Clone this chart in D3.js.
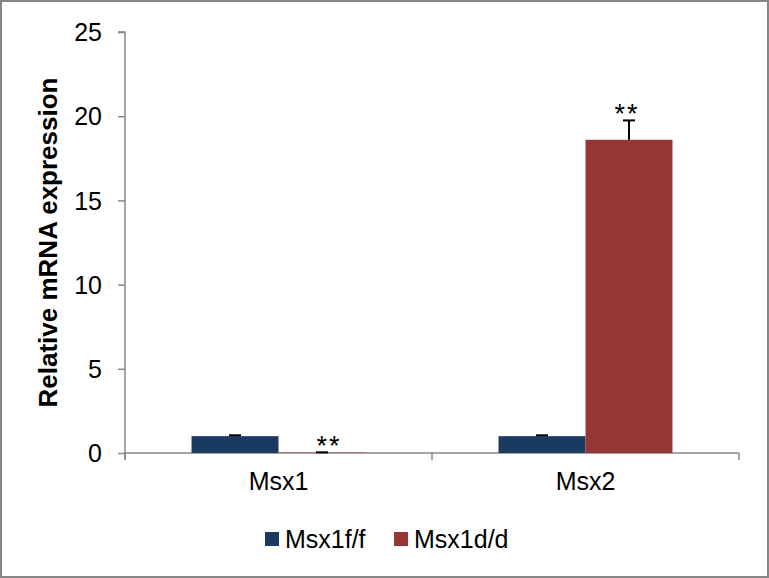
<!DOCTYPE html>
<html>
<head>
<meta charset="utf-8">
<script src="https://cdn.jsdelivr.net/npm/d3@7"></script>
<style>
  html, body { margin: 0; padding: 0; background: #fff; }
  svg text { font-family: Arial, "Liberation Sans", sans-serif; fill: #000; }
</style>
</head>
<body>
<svg id="chart" width="769" height="578"></svg>
<script>
// Relative mRNA expression of Msx1 / Msx2 in control vs. mutant
const genes = ["Msx1", "Msx2"];
const groups = ["Msx1f/f", "Msx1d/d"];
const colors = ["#1B3A62", "#953735"];
const msx1ffValues = [1.0, 1.0];
const msx1ffErrors = [0.05, 0.05];
const msx1ddValues = [0.02, 18.6];
const msx1ddErrors = [0.02, 1.15];
const msx1ddMarks = ["**", "**"];
const yTicks = [0, 5, 10, 15, 20, 25];

const svg = d3.select("#chart");
const W = 769, H = 578;

// outer frame
svg.append("rect")
  .attr("x", 1).attr("y", 1)
  .attr("width", W - 2).attr("height", H - 2)
  .attr("fill", "#fff").attr("stroke", "#868686").attr("stroke-width", 2);

const plot = { left: 125, right: 739, top: 32, bottom: 453 };

const x0 = d3.scaleBand().domain(genes).range([plot.left, plot.right]).paddingInner(0).paddingOuter(0);
const x1 = d3.scaleBand().domain(groups).range([0, x0.bandwidth()]).paddingInner(0).paddingOuter(0.765);
const y = d3.scaleLinear().domain([0, 25]).range([plot.bottom, plot.top]);

const axisColor = "#868686";

// y axis
const yAxis = svg.append("g")
  .attr("transform", `translate(${plot.left},0)`)
  .call(d3.axisLeft(y).tickValues(yTicks).tickSize(7).tickPadding(16).tickFormat(d3.format("d")));
yAxis.select(".domain").attr("stroke", axisColor).attr("stroke-width", 1.5)
  .attr("d", `M-7,${plot.top}H0V${plot.bottom + 6}`);
yAxis.selectAll(".tick line").attr("stroke", axisColor).attr("stroke-width", 1.5);
yAxis.selectAll(".tick text").style("font-size", "25px").attr("dy", "0.35em");

// x axis line with boundary ticks
const xAxisG = svg.append("g");
xAxisG.append("line")
  .attr("x1", plot.left).attr("x2", plot.right)
  .attr("y1", plot.bottom).attr("y2", plot.bottom)
  .attr("stroke", axisColor).attr("stroke-width", 1.5);
const bounds = genes.map(g => x0(g)).concat([plot.right]);
xAxisG.selectAll("line.tk").data(bounds).join("line").attr("class", "tk")
  .attr("x1", d => d).attr("x2", d => d)
  .attr("y1", plot.bottom).attr("y2", plot.bottom + 7)
  .attr("stroke", axisColor).attr("stroke-width", 1.5);
xAxisG.selectAll("text").data(genes).join("text")
  .attr("x", d => x0(d) + x0.bandwidth() / 2)
  .attr("y", plot.bottom + 37)
  .attr("text-anchor", "middle")
  .style("font-size", "25px")
  .text(d => d);

// bars
const series = [
  { name: groups[0], values: msx1ffValues, errors: msx1ffErrors, color: colors[0] },
  { name: groups[1], values: msx1ddValues, errors: msx1ddErrors, color: colors[1] }
];
const rows = [];
series.forEach(s => genes.forEach((g, i) => rows.push({ gene: g, group: s.name, v: s.values[i], e: s.errors[i], color: s.color, idx: i })));

svg.append("g").selectAll("rect").data(rows).join("rect")
  .attr("x", d => x0(d.gene) + x1(d.group))
  .attr("y", d => y(d.v))
  .attr("width", x1.bandwidth())
  .attr("height", d => y(0) - y(d.v))
  .attr("fill", d => d.color);

// upper error bars
const eb = svg.append("g").attr("stroke", "#000").attr("stroke-width", 2);
rows.forEach(d => {
  const cx = x0(d.gene) + x1(d.group) + x1.bandwidth() / 2;
  eb.append("line").attr("x1", cx).attr("x2", cx).attr("y1", y(d.v)).attr("y2", y(d.v + d.e));
  eb.append("line").attr("x1", cx - 6).attr("x2", cx + 6).attr("y1", y(d.v + d.e)).attr("y2", y(d.v + d.e));
});

// significance marks
svg.append("g").selectAll("text").data(genes).join("text")
  .attr("x", (g, i) => x0(g) + x1(groups[1]) + x1.bandwidth() / 2 + (i === 0 ? 7 : -2))
  .attr("y", (g, i) => y(msx1ddValues[i] + msx1ddErrors[i]) + 3)
  .attr("text-anchor", "middle")
  .style("font-size", "27px")
  .attr("letter-spacing", "2px")
  .text((g, i) => msx1ddMarks[i]);

// y-axis title
svg.append("text")
  .attr("transform", `translate(57,${(plot.top + plot.bottom) / 2}) rotate(-90)`)
  .attr("text-anchor", "middle")
  .style("font-size", "26px")
  .style("font-weight", "bold")
  .text("Relative mRNA expression");

// legend
const legend = svg.append("g");
const legendX = [265, 394];
groups.forEach((g, i) => {
  legend.append("rect").attr("x", legendX[i]).attr("y", 532).attr("width", 14).attr("height", 14).attr("fill", colors[i]);
  legend.append("text").attr("x", legendX[i] + 20).attr("y", 539).attr("dy", "0.35em")
    .style("font-size", "25px").text(g);
});
</script>
</body>
</html>
